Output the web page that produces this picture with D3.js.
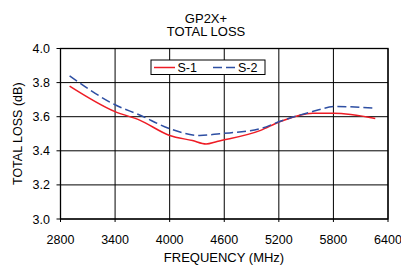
<!DOCTYPE html>
<html>
<head>
<meta charset="utf-8">
<script src="https://cdn.jsdelivr.net/npm/d3@7"></script>
<style>
  body { margin: 0; background: #fff; }
  text { font-family: Arial, "Liberation Sans", sans-serif; fill: #000; }
</style>
</head>
<body>
<svg id="chart" width="401" height="267"></svg>
<script>
"use strict";

var freqs1 = [2900, 3400, 3670, 4000, 4250, 4400, 4520, 5000, 5210, 5575, 5800, 6260];
var loss1  = [3.78, 3.63, 3.58, 3.49, 3.46, 3.44, 3.455, 3.52, 3.57, 3.62, 3.62, 3.59];
var freqs2 = [2900, 3400, 3670, 4000, 4330, 4550, 5000, 5200, 5570, 5830, 6260];
var loss2  = [3.84, 3.67, 3.61, 3.53, 3.49, 3.50, 3.53, 3.57, 3.63, 3.66, 3.65];
var xTicks = [2800, 3400, 4000, 4600, 5200, 5800, 6400];
var yTicks = [3.0, 3.2, 3.4, 3.6, 3.8, 4.0];
var seriesNames = ["S-1", "S-2"];

var FONT = "12.5px";
var svg = d3.select("#chart");
var margin = { left: 60.5, right: 388, top: 48.5, bottom: 219 };

var x = d3.scaleLinear().domain([2800, 6400]).range([margin.left, margin.right]);
var y = d3.scaleLinear().domain([3.0, 4.0]).range([margin.bottom, margin.top]);

// Grid (with small outside ticks)
svg.append("g")
  .selectAll("line")
  .data(xTicks)
  .enter()
  .append("line")
  .attr("x1", function (d) { return x(d); })
  .attr("x2", function (d) { return x(d); })
  .attr("y1", margin.top)
  .attr("y2", margin.bottom + 3)
  .attr("stroke", "#000")
  .attr("stroke-width", 1);

svg.append("g")
  .selectAll("line")
  .data(yTicks)
  .enter()
  .append("line")
  .attr("x1", margin.left - 4)
  .attr("x2", margin.right)
  .attr("y1", function (d) { return y(d); })
  .attr("y2", function (d) { return y(d); })
  .attr("stroke", "#000")
  .attr("stroke-width", 1);

// Frame
svg.append("rect")
  .attr("x", margin.left)
  .attr("y", margin.top)
  .attr("width", margin.right - margin.left)
  .attr("height", margin.bottom - margin.top)
  .attr("fill", "none")
  .attr("stroke", "#000")
  .attr("stroke-width", 1.3);

// Tick labels
svg.append("g")
  .selectAll("text")
  .data(yTicks)
  .enter()
  .append("text")
  .attr("x", 50)
  .attr("y", function (d) { return y(d) + 4.5; })
  .attr("text-anchor", "end")
  .attr("font-size", FONT)
  .text(function (d) { return d.toFixed(1); });

svg.append("g")
  .selectAll("text")
  .data(xTicks)
  .enter()
  .append("text")
  .attr("x", function (d) { return x(d); })
  .attr("y", 243.5)
  .attr("text-anchor", "middle")
  .attr("font-size", FONT)
  .text(function (d) { return d; });

// Titles
svg.append("text").attr("x", 206).attr("y", 22.5).attr("text-anchor", "middle")
  .attr("font-size", "13px").text("GP2X+");
svg.append("text").attr("x", 206).attr("y", 36).attr("text-anchor", "middle")
  .attr("font-size", "13px").text("TOTAL LOSS");
svg.append("text").attr("x", 224).attr("y", 262).attr("text-anchor", "middle")
  .attr("font-size", "13px").text("FREQUENCY (MHz)");
svg.append("text")
  .attr("transform", "translate(22," + ((margin.top + margin.bottom) / 2) + ") rotate(-90)")
  .attr("text-anchor", "middle")
  .attr("font-size", FONT)
  .text("TOTAL LOSS (dB)");

// Lines
var lineGen = d3.line()
  .x(function (d) { return x(d[0]); })
  .y(function (d) { return y(d[1]); })
  .curve(d3.curveMonotoneX);

svg.append("path")
  .datum(d3.zip(freqs1, loss1))
  .attr("d", lineGen)
  .attr("fill", "none")
  .attr("stroke", "#ee1c25")
  .attr("stroke-width", 1.5);

svg.append("path")
  .datum(d3.zip(freqs2, loss2))
  .attr("d", lineGen)
  .attr("fill", "none")
  .attr("stroke", "#2e4fa3")
  .attr("stroke-width", 1.5)
  .attr("stroke-dasharray", "9,4");

// Legend
var legend = svg.append("g");
legend.append("rect")
  .attr("x", 151).attr("y", 60)
  .attr("width", 114).attr("height", 14.5)
  .attr("fill", "#fff").attr("stroke", "#000").attr("stroke-width", 1);
legend.append("line")
  .attr("x1", 154).attr("x2", 175).attr("y1", 67.5).attr("y2", 67.5)
  .attr("stroke", "#ee1c25").attr("stroke-width", 1.5);
legend.append("text").attr("x", 177.5).attr("y", 72).attr("font-size", FONT).text(seriesNames[0]);
legend.append("line")
  .attr("x1", 213).attr("x2", 236).attr("y1", 67.5).attr("y2", 67.5)
  .attr("stroke", "#2e4fa3").attr("stroke-width", 1.5)
  .attr("stroke-dasharray", "9,4");
legend.append("text").attr("x", 238).attr("y", 72).attr("font-size", FONT).text(seriesNames[1]);
</script>
</body>
</html>
